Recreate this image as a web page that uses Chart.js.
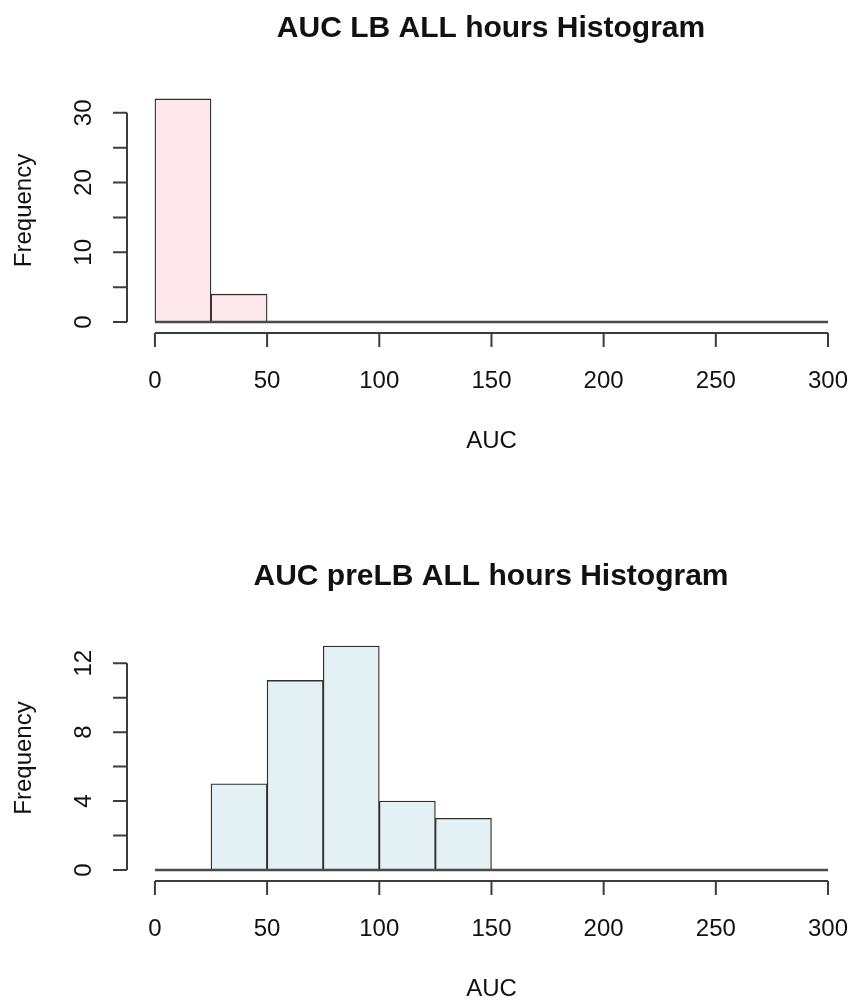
<!DOCTYPE html>
<html>
<head>
<meta charset="utf-8">
<script src="https://cdn.jsdelivr.net/npm/chart.js@4.4.1/dist/chart.umd.min.js"></script>
<style>
  html, body { margin: 0; padding: 0; background: #fff; overflow: hidden; }
  .panel { position: absolute; left: 0; width: 851px; height: 500px; }
</style>
</head>
<body>
<div class="panel" style="top:0"><canvas id="lb" width="851" height="500"></canvas></div>
<div class="panel" style="top:500px"><canvas id="prelb" width="851" height="500"></canvas></div>
<script>
// histogram bin edges (AUC)
const breaks = [0, 25, 50, 75, 100, 125, 150, 175, 200, 225, 250, 275, 300];
const lbCounts = [32, 4, 0, 0, 0, 0, 0, 0, 0, 0, 0, 0];
const preLbCounts = [0, 5, 11, 13, 4, 3, 0, 0, 0, 0, 0, 0];

const xTicks = [0, 50, 100, 150, 200, 250, 300];
const lbYTicks = [0, 5, 10, 15, 20, 25, 30];
const lbYLabels = [0, 10, 20, 30];
const preLbYTicks = [0, 2, 4, 6, 8, 10, 12];
const preLbYLabels = [0, 4, 8, 12];

const FONT = '"Liberation Sans", Arial, sans-serif';
const INK = '#111';
const AXIS = '#3c3c3c';

// R-style axes, labels and titles drawn through the chart's scales
const rAxes = {
  id: 'rAxes',
  afterDatasetsDraw(chart, args, o) {
    const ctx = chart.ctx;
    const x = chart.scales.x, y = chart.scales.y;
    const area = chart.chartArea;
    const y0 = y.getPixelForValue(0);

    ctx.save();
    // zero-height bins show up as a line along the base
    ctx.strokeStyle = '#4a4a4a';
    ctx.lineWidth = 2.5;
    ctx.beginPath();
    ctx.moveTo(x.getPixelForValue(breaks[0]), y0);
    ctx.lineTo(x.getPixelForValue(breaks[breaks.length - 1]), y0);
    ctx.stroke();

    // x axis
    const xa = area.bottom + 2;
    ctx.strokeStyle = AXIS;
    ctx.lineWidth = 2;
    ctx.beginPath();
    ctx.moveTo(x.getPixelForValue(xTicks[0]), xa);
    ctx.lineTo(x.getPixelForValue(xTicks[xTicks.length - 1]), xa);
    xTicks.forEach(v => {
      const px = x.getPixelForValue(v);
      ctx.moveTo(px, xa);
      ctx.lineTo(px, xa + 14);
    });
    ctx.stroke();

    ctx.fillStyle = INK;
    ctx.font = '24px ' + FONT;
    ctx.textAlign = 'center';
    ctx.textBaseline = 'middle';
    xTicks.forEach(v => ctx.fillText(String(v), x.getPixelForValue(v), xa + 48));
    ctx.fillText('AUC', (area.left + area.right + 4) / 2, xa + 108);

    // y axis
    const ya = area.left - 1;
    const yt = o.yTicks;
    ctx.beginPath();
    ctx.moveTo(ya, y.getPixelForValue(yt[0]));
    ctx.lineTo(ya, y.getPixelForValue(yt[yt.length - 1]));
    yt.forEach(v => {
      const py = y.getPixelForValue(v);
      ctx.moveTo(ya, py);
      ctx.lineTo(ya - 14, py);
    });
    ctx.stroke();

    o.yLabels.forEach(v => {
      ctx.save();
      ctx.translate(ya - 43, y.getPixelForValue(v));
      ctx.rotate(-Math.PI / 2);
      ctx.fillText(String(v), 0, 0);
      ctx.restore();
    });
    ctx.save();
    ctx.translate(24, (area.top + area.bottom) / 2);
    ctx.rotate(-Math.PI / 2);
    ctx.fillText('Frequency', 0, 0);
    ctx.restore();

    // title
    ctx.font = 'bold 30px ' + FONT;
    ctx.fillText(o.title, 491, o.titleY);
    ctx.restore();
  }
};

function histogram(id, counts, fill, yMin, yMax, pad, axisOpts) {
  const points = counts.map((c, i) => ({ x: (breaks[i] + breaks[i + 1]) / 2, y: c }));
  return new Chart(document.getElementById(id), {
    type: 'bar',
    data: {
      datasets: [{
        data: points,
        backgroundColor: fill,
        borderColor: '#2e2e2e',
        borderWidth: 1.3,
        borderSkipped: false,
        barPercentage: 1,
        categoryPercentage: 1
      }]
    },
    options: {
      responsive: false,
      animation: false,
      layout: { padding: pad },
      scales: {
        x: { type: 'linear', min: -12, max: 310.25, offset: false, display: false },
        y: { min: yMin, max: yMax, display: false }
      },
      plugins: {
        legend: { display: false },
        tooltip: { enabled: false },
        rAxes: axisOpts
      }
    },
    plugins: [rAxes]
  });
}

histogram('lb', lbCounts, '#fde6ec', -1.28, 33.28,
  { left: 128, right: 0, top: 90, bottom: 169 },
  { title: 'AUC LB ALL hours Histogram', titleY: 29, yTicks: lbYTicks, yLabels: lbYLabels });

histogram('prelb', preLbCounts, '#e3f0f4', -0.52, 13.52,
  { left: 128, right: 0, top: 137, bottom: 121 },
  { title: 'AUC preLB ALL hours Histogram', titleY: 77, yTicks: preLbYTicks, yLabels: preLbYLabels });
</script>
</body>
</html>
